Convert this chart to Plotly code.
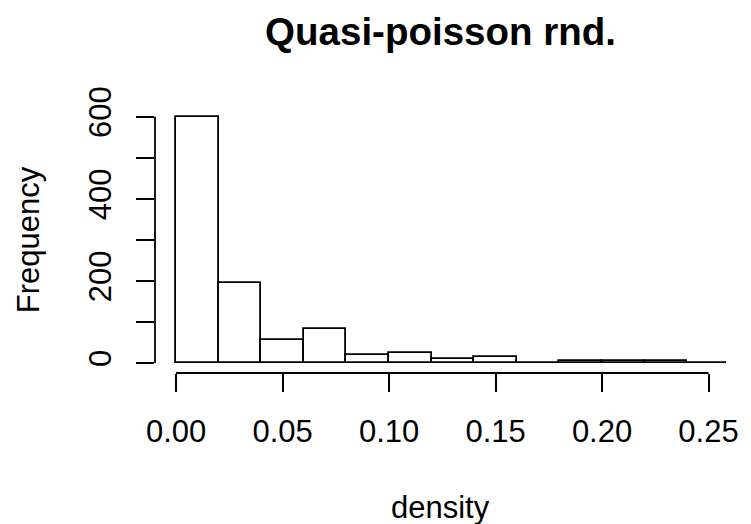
import plotly.graph_objects as go

# Histogram data
bin_edges = [0.00, 0.02, 0.04, 0.06, 0.08, 0.10, 0.12, 0.14, 0.16, 0.18, 0.20, 0.22, 0.24, 0.26]
counts = [600, 195, 55, 83, 20, 24, 9, 15, 1, 6, 6, 6, 1]
x_ticks = [0.00, 0.05, 0.10, 0.15, 0.20, 0.25]
x_ticklabels = ["0.00", "0.05", "0.10", "0.15", "0.20", "0.25"]
y_ticks = [0, 100, 200, 300, 400, 500, 600]
y_ticklabels = ["0", "", "200", "", "400", "", "600"]

mids = [(a + b) / 2 for a, b in zip(bin_edges[:-1], bin_edges[1:])]
widths = [b - a for a, b in zip(bin_edges[:-1], bin_edges[1:])]

FONT = "Liberation Sans, Arial, Helvetica, sans-serif"
LW = 1.8
FS = 31

fig = go.Figure()
fig.add_trace(go.Bar(
    x=mids, y=counts, width=widths,
    marker=dict(color="white", line=dict(color="black", width=LW)),
    showlegend=False, hoverinfo="skip",
))

fig.update_layout(
    width=751, height=524,
    margin=dict(l=155, r=19, t=107, b=151),
    paper_bgcolor="white", plot_bgcolor="white",
    font=dict(family=FONT, color="black", size=FS),
    bargap=0,
    title=dict(text="<b>Quasi-poisson rnd.</b>", x=0.5, xref="paper", xanchor="center",
               y=1 - 32 / 524, yref="container", yanchor="middle",
               font=dict(family=FONT, size=38.5, color="black")),
    xaxis=dict(range=[-0.0099, 0.2582], showgrid=False, zeroline=False, showline=False,
               ticks="outside", ticklen=18, tickwidth=LW, tickcolor="black",
               tickvals=x_ticks, ticktext=x_ticklabels, tickfont=dict(size=FS),
               ticklabelstandoff=13),
    yaxis=dict(range=[-24.3, 624], showgrid=False, zeroline=False, showline=False,
               ticks="outside", ticklen=18, tickwidth=LW, tickcolor="black",
               tickvals=y_ticks, ticktext=y_ticklabels, tickangle=-90, tickfont=dict(size=FS),
               ticklabelstandoff=13),
    shapes=[
        dict(type="line", xref="x", yref="paper", x0=x_ticks[0], x1=x_ticks[-1], y0=0, y1=0,
             line=dict(color="black", width=LW)),
        dict(type="line", xref="paper", yref="y", x0=0, x1=0, y0=y_ticks[0], y1=y_ticks[-1],
             line=dict(color="black", width=LW)),
    ],
    annotations=[
        dict(text="density", xref="paper", yref="paper", x=0.5, y=-0.505,
             xanchor="center", yanchor="middle", showarrow=False, font=dict(size=FS)),
        dict(text="Frequency", xref="paper", yref="paper", x=-0.222, y=0.5, textangle=-90,
             xanchor="center", yanchor="middle", showarrow=False, font=dict(size=FS)),
    ],
)

fig.write_html("out.html")
